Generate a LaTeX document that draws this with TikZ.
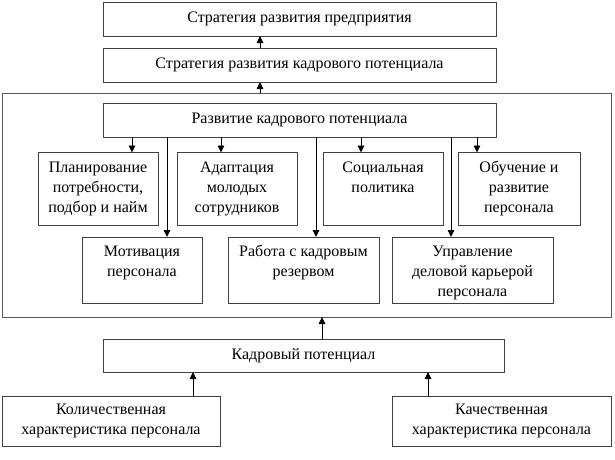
\documentclass[tikz,border=0pt]{standalone}
\usepackage{fontspec}
\setmainfont{Liberation Serif}
\usetikzlibrary{arrows.meta}
\newcommand\topbox[3]{\parbox[c][#2][t]{#1}{\centering\rule{0pt}{19.5pt}#3}}
\tikzset{
  box/.style={draw=black!75, line width=1pt, inner sep=0pt, outer sep=0pt,
    anchor=north west, font=\fontsize{16}{20}\selectfont},
  cbox/.style={box, align=center},
  frame/.style={draw=black!65, line width=1pt},
  arr/.style={draw=black, line width=0.9pt, -{Triangle[width=6.5pt,length=7pt]}},
  ln/.style={draw=black, line width=0.9pt}
}
\begin{document}
\begin{tikzpicture}[x=1pt,y=-1pt]
\useasboundingbox (0,0) rectangle (615,459);
\node[cbox, minimum width=393pt, minimum height=34pt] (b1) at (103,2) {Стратегия развития предприятия};
\node[cbox, minimum width=393pt, minimum height=34pt] (b2) at (103,48) {Стратегия развития кадрового потенциала};
\node[frame, anchor=north west, inner sep=0pt, outer sep=0pt, minimum width=609pt, minimum height=224pt] (fr) at (2,93) {};
\node[cbox, minimum width=393pt, minimum height=34pt] (b3) at (103,103) {Развитие кадрового потенциала};

\node[box] (plan) at (38,152.5) {\topbox{120pt}{73pt}{Планирование\\потребности,\\подбор и найм}};
\node[box] (adapt) at (177,152.5) {\topbox{120pt}{73pt}{Адаптация\\молодых\\сотрудников}};
\node[box] (soc) at (323,152.5) {\topbox{120pt}{73pt}{Социальная\\политика}};
\node[box] (obuch) at (458,152.5) {\topbox{122pt}{73pt}{Обучение и\\развитие\\персонала}};

\node[box] (motiv) at (82,237) {\topbox{120pt}{66pt}{Мотивация\\персонала}};
\node[box] (work) at (228,237) {\topbox{151pt}{66pt}{Работа с кадровым\\резервом}};
\node[box] (upr) at (392,237) {\topbox{161pt}{66pt}{Управление\\деловой карьерой\\персонала}};

\node[cbox, minimum width=401pt, minimum height=33pt] (kadr) at (103,339) {Кадровый потенциал};
\node[cbox, minimum width=218pt, minimum height=50pt] (kol) at (2,396) {Количественная\\характеристика персонала};
\node[cbox, minimum width=219pt, minimum height=50pt] (kach) at (392,396) {Качественная\\характеристика персонала};

\coordinate (xu) at (260,0);
\coordinate (x1) at (132,0);
\coordinate (x2) at (167,0);
\coordinate (x3) at (221,0);
\coordinate (x4) at (316,0);
\coordinate (x5) at (361,0);
\coordinate (x6) at (451,0);
\coordinate (x7) at (477,0);
\coordinate (xk) at (322,0);
\coordinate (xl) at (193,0);
\coordinate (xr) at (428,0);

\draw[arr] (b2.north -| xu) -- (b1.south -| xu);
\draw[arr] (fr.north -| xu) -- (b2.south -| xu);
\draw[arr] (b3.south -| x1) -- (plan.north -| x1);
\draw[arr] (b3.south -| x2) -- (motiv.north -| x2);
\draw[arr] (b3.south -| x3) -- (adapt.north -| x3);
\draw[arr] (b3.south -| x4) -- (work.north -| x4);
\draw[arr] (b3.south -| x5) -- (soc.north -| x5);
\draw[arr] (b3.south -| x6) -- (upr.north -| x6);
\draw[arr] (b3.south -| x7) -- (obuch.north -| x7);
\draw[arr] (kadr.north -| xk) -- (fr.south -| xk);
\draw[arr] (kol.north -| xl) -- (kadr.south -| xl);
\draw[arr] (kach.north -| xr) -- (kadr.south -| xr);
\end{tikzpicture}
\end{document}
